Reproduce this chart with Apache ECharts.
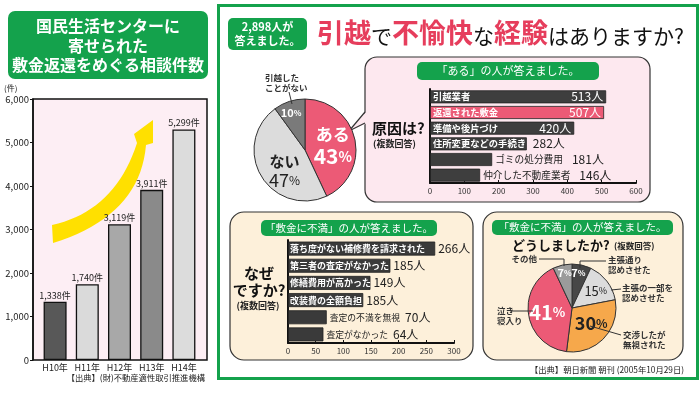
<!DOCTYPE html>
<html><head><meta charset="utf-8">
<script src="https://cdn.jsdelivr.net/npm/echarts@6/dist/echarts.min.js"></script>
<style>html,body{margin:0;padding:0;background:#fff}#c{width:700px;height:395px}</style>
</head><body><div id="c"></div>
<script>
// ---------------- DATA ----------------
const yearCats = ['H10年','H11年','H12年','H13年','H14年'];
const yearCounts = [1338,1740,3119,3911,5299];
const yearTicks = [0,1000,2000,3000,4000,5000,6000];

const expNames = ['ある','ない','引越したことがない'];
const expShares = [43,47,10];

const causeNames = ['引越業者','返還された敷金','準備や後片づけ','住所変更などの手続き','ゴミの処分費用','仲介した不動産業者'];
const causeCounts = [513,507,420,282,181,146];
const causeTicks = [0,100,200,300,400,500,600];

const whyNames = ['落ち度がない補修費を請求された','第三者の査定がなかった','修繕費用が高かった','改装費の全額負担','査定の不満を無視','査定がなかった'];
const whyBarLengths = [266,185,149,136,70,64];
const whyPrinted = [266,185,149,185,70,64];
const whyTicks = [0,50,100,150,200,250,300];

const actionNames = ['主張通り認めさせた','主張の一部を認めさせた','交渉したが無視された','泣き寝入り','その他'];
const actionShares = [7,15,30,41,7];

// ---------------- STYLE ----------------
const FF = '"Noto Sans CJK JP", "Noto Sans CJK SC", sans-serif';
const GREEN = '#14A24C';
const PINK = '#EC5A76';
const yearColors = ['#585858','#DADADA','#A8A8A8','#8A8A8A','#DCDCDC'];
const expColors = [PINK,'#DCDCDC','#7A7A7A'];
const actionColors = ['#474747','#DCDCDC','#F6A84B',PINK,'#9B9B9B'];

function txt(x,y,text,st){
  return {type:'text', x:x, y:y, z:100, style:Object.assign({text:text, fill:'#222', fontFamily:FF, fontSize:10, align:'left', verticalAlign:'middle'}, st||{})};
}
function quad(p0,c,p2,n){
  const pts=[];
  for(let i=0;i<=n;i++){const t=i/n;
    pts.push([(1-t)*(1-t)*p0[0]+2*(1-t)*t*c[0]+t*t*p2[0],(1-t)*(1-t)*p0[1]+2*(1-t)*t*c[1]+t*t*p2[1]]);}
  return pts;
}
const arrowPts = [].concat(quad([52,225],[115,211],[137,143],20),[[134,134],[153,120],[153,143],[146,145]],quad([146,145],[140,216],[53,243],20));

const g = [];
// left panel
g.push({type:'rect', z:1, shape:{x:8,y:11,width:200,height:68,r:7}, style:{fill:GREEN}});
g.push(txt(108,45.5,'国民生活センターに\n寄せられた\n敷金返還をめぐる相談件数',{fill:'#fff',fontSize:16,fontWeight:'bold',align:'center',lineHeight:19.5}));
g.push(txt(4,88,'(件)',{fontSize:8}));
g.push({type:'rect', z:0, shape:{x:33,y:99,width:174,height:261}, style:{fill:'#FDEEF4', stroke:'#111', lineWidth:1.5}});
g.push({type:'polygon', z:1, shape:{points:arrowPts}, style:{fill:'#FFE000'}});
g.push(txt(205,378,'【出典】(財)不動産適性取引推進機構',{fontSize:8.3,align:'right'}));
// right panel frame
g.push({type:'rect', z:0, shape:{x:218.5,y:5.5,width:479,height:373}, style:{fill:'none', stroke:GREEN, lineWidth:3}});
g.push({type:'rect', z:1, shape:{x:228,y:18,width:79,height:32,r:5}, style:{fill:GREEN}});
g.push(txt(267.5,34,'2,898人が\n答えました。',{fill:'#fff',fontSize:11,fontWeight:'bold',align:'center',lineHeight:13.5}));
g.push({type:'text', z:100, x:317, y:33, style:{text:'{r|引越}{k|で}{r|不愉快}{k|な}{r|経験}{k|はありますか?}', verticalAlign:'middle',
  rich:{r:{fontFamily:FF,fontSize:27,fontWeight:'bold',fill:'#E63D5C',verticalAlign:'bottom'},
        k:{fontFamily:FF,fontSize:21,fill:'#111',verticalAlign:'bottom'}}}});
// pie1 callout
g.push(txt(265,82.5,'引越した\nことがない',{fontSize:8.5,fontWeight:'bold',fill:'#333',lineHeight:10}));
g.push({type:'line', z:100, shape:{x1:289,y1:92,x2:292,y2:104}, style:{stroke:'#333',lineWidth:1}});
// speech bubble
g.push({type:'rect', z:0, shape:{x:365,y:57,width:285,height:145,r:12}, style:{fill:'#FDE8EF', stroke:'#333', lineWidth:1.2}});
g.push({type:'polygon', z:1, shape:{points:[[366.5,111.5],[349,131],[366.5,123.5]]}, style:{fill:'#FDE8EF'}});
g.push({type:'polyline', z:1, shape:{points:[[365,112],[349,131],[365,123]]}, style:{stroke:'#333',lineWidth:1.2,fill:'none'}});
g.push({type:'rect', z:1, shape:{x:417,y:62,width:182,height:18,r:5}, style:{fill:GREEN}});
g.push(txt(508,71,'「ある」の人が答えました。',{fill:'#fff',fontSize:11,align:'center'}));
g.push(txt(372,128,'原因は?',{fontSize:15,fontWeight:'bold',fill:'#111'}));
g.push(txt(373,143.5,'(複数回答)',{fontSize:9,fontWeight:'bold',fill:'#222'}));
// bottom-left panel
g.push({type:'rect', z:0, shape:{x:230,y:212,width:243,height:148,r:14}, style:{fill:'#FDF0DA', stroke:'#333', lineWidth:1.2}});
g.push({type:'rect', z:1, shape:{x:261,y:220,width:176,height:16,r:5}, style:{fill:GREEN}});
g.push(txt(349,228,'「敷金に不満」の人が答えました。',{fill:'#fff',fontSize:10.5,align:'center'}));
g.push(txt(259,282,'なぜ\nですか?',{fontSize:15,fontWeight:'bold',fill:'#111',align:'center',lineHeight:17}));
g.push(txt(258,306,'(複数回答)',{fontSize:9,fontWeight:'bold',align:'center'}));
// bottom-right panel
g.push({type:'rect', z:0, shape:{x:483,y:212,width:200,height:148,r:14}, style:{fill:'#FDF0DA', stroke:'#333', lineWidth:1.2}});
g.push({type:'rect', z:1, shape:{x:492,y:220,width:181,height:15,r:5}, style:{fill:GREEN}});
g.push(txt(582.5,227.5,'「敷金に不満」の人が答えました。',{fill:'#fff',fontSize:10.5,align:'center'}));
g.push(txt(512,245,'どうしましたか?',{fontSize:13,fontWeight:'bold',fill:'#111'}));
g.push(txt(614,246,'(複数回答)',{fontSize:8.5,fontWeight:'bold'}));
// pie2 callouts
const LS = {stroke:'#333',lineWidth:1,fill:'none'};
g.push(txt(537,259,'その他',{fontSize:8.5,align:'right',fontWeight:'bold',fill:'#333'}));
g.push({type:'polyline', z:100, shape:{points:[[539,259],[564,259],[564,266]]}, style:LS});
g.push(txt(608,265,'主張通り\n認めさせた',{fontSize:8.5,fontWeight:'bold',fill:'#333',lineHeight:10}));
g.push({type:'polyline', z:100, shape:{points:[[580,268],[580,261],[606,261]]}, style:LS});
g.push(txt(622,293,'主張の一部を\n認めさせた',{fontSize:8.5,fontWeight:'bold',fill:'#333',lineHeight:10}));
g.push({type:'polyline', z:100, shape:{points:[[611,290],[621,289]]}, style:LS});
g.push(txt(623,340,'交渉したが\n無視された',{fontSize:8.5,fontWeight:'bold',fill:'#333',lineHeight:10}));
g.push({type:'polyline', z:100, shape:{points:[[590,326],[621,335]]}, style:LS});
g.push(txt(497,316,'泣き\n寝入り',{fontSize:8.5,fontWeight:'bold',fill:'#333',lineHeight:10}));
g.push({type:'polyline', z:100, shape:{points:[[511,311],[533,311]]}, style:LS});
g.push(txt(684,370,'【出典】朝日新聞 朝刊 (2005年10月29日)',{fontSize:8.3,align:'right'}));

// ---------------- SERIES DATA BUILD ----------------
const leftBarData = yearCounts.map((v,i)=>({value:v, itemStyle:{color:yearColors[i]}}));

const causeBarData = causeCounts.map((v,i)=>{
  const inside = i < 4;
  return {value:v, itemStyle:{color: i===1 ? PINK : '#3E3E3E'},
    label: inside ? {show:true, position:'insideLeft', distance:3, formatter:causeNames[i], color:'#fff', fontSize:9.3, fontWeight:'bold', fontFamily:FF}
                  : {show:true, position:'right', distance:3, formatter:'{n|'+causeNames[i]+'}{v|'+v+'人}',
                     rich:{n:{fontSize:9.7, color:'#222', fontFamily:FF, padding:[0,9,0,0]}, v:{fontSize:12, color:'#222', fontFamily:FF}}}};
});
const causeValData = causeCounts.map((v,i)=>({value:v,
  label: i < 3 ? {show:true, position:'insideRight', distance:3, formatter:v+'人', color:'#fff', fontSize:12, fontFamily:FF}
       : i === 3 ? {show:true, position:'right', distance:6, formatter:v+'人', color:'#222', fontSize:12, fontFamily:FF}
       : {show:false}}));

const whyBarData = whyBarLengths.map((v,i)=>{
  const inside = i < 4;
  return {value:v,
    label: inside ? {show:true, position:'insideLeft', distance:2, formatter:whyNames[i], color:'#fff', fontSize:9, fontWeight:'bold', fontFamily:FF}
                  : {show:true, position:'right', distance:3, formatter:'{n|'+whyNames[i]+'}{v|'+whyPrinted[i]+'人}',
                     rich:{n:{fontSize:8.8, color:'#222', fontFamily:FF, padding:[0,5,0,0]}, v:{fontSize:12, color:'#222', fontFamily:FF}}}};
});
const whyValData = whyBarLengths.map((v,i)=>({value:v,
  label: i < 4 ? {show:true, position:'right', distance:3, formatter:whyPrinted[i]+'人', color:'#222', fontSize:12, fontFamily:FF} : {show:false}}));

const pie1Data = expNames.map((n,i)=>{
  let label;
  if(i===0) label = {formatter:'{a|'+n+'}\n{b|'+expShares[i]+'}{c|%}'};
  else if(i===1) label = {formatter:'{a2|'+n+'}\n{b2|'+expShares[i]+'}{c2|%}'};
  else label = {formatter:'{s|'+expShares[i]+'}{t|%}'};
  return {name:n, value:expShares[i], itemStyle:{color:expColors[i]}, label:label};
});
const pie1Shift = [[0,2],[4,7],[-5,-10]];

const pie2Rich = {
  w1:{fontSize:11,fontWeight:'bold',color:'#fff',fontFamily:FF}, w2:{fontSize:8,fontWeight:'bold',color:'#fff',fontFamily:FF},
  d1:{fontSize:13,color:'#222',fontFamily:FF}, d2:{fontSize:9,color:'#222',fontFamily:FF},
  e1:{fontSize:18,fontWeight:'bold',color:'#222',fontFamily:FF}, e2:{fontSize:12,fontWeight:'bold',color:'#222',fontFamily:FF},
  f1:{fontSize:20,fontWeight:'bold',color:'#fff',fontFamily:FF}, f2:{fontSize:13,fontWeight:'bold',color:'#fff',fontFamily:FF}
};
const pie2Keys = ['w','d','e','f','w'];
const pie2Data = actionNames.map((n,i)=>({name:n, value:actionShares[i], itemStyle:{color:actionColors[i]},
  label:{formatter:'{'+pie2Keys[i]+'1|'+actionShares[i]+'}{'+pie2Keys[i]+'2|%}'}}));
const pie2Shift = [[1,-11],[4,-2],[1,-2],[0,0],[-2,-11]];

function ticksAxis(t){ return {min:t[0], max:t[t.length-1], interval:t[1]-t[0]}; }

const option = {
  animation:false,
  backgroundColor:'#fff',
  textStyle:{fontFamily:FF},
  graphic:{elements:g},
  grid:[
    {left:39, top:99, width:161, height:261},
    {left:430, top:89, width:206, height:94},
    {left:288, top:240, width:166, height:103}
  ],
  xAxis:[
    {gridIndex:0, type:'category', data:yearCats, axisLine:{show:false}, axisTick:{show:false},
     axisLabel:{interval:0, fontSize:9, color:'#222', margin:3, fontFamily:FF}},
    Object.assign({gridIndex:1, type:'value', axisLine:{show:true,lineStyle:{color:'#111',width:2}},
     axisTick:{show:true,inside:true,length:3,lineStyle:{color:'#111'}}, splitLine:{show:false},
     axisLabel:{fontSize:8, color:'#333', margin:4}}, ticksAxis(causeTicks)),
    Object.assign({gridIndex:2, type:'value', axisLine:{show:true,lineStyle:{color:'#111',width:2}},
     axisTick:{show:true,inside:true,length:3,lineStyle:{color:'#111'}}, splitLine:{show:false},
     axisLabel:{fontSize:8, color:'#333', margin:4}}, ticksAxis(whyTicks))
  ],
  yAxis:[
    Object.assign({gridIndex:0, type:'value', offset:6, axisLine:{show:true,lineStyle:{color:'#111',width:1.5}},
     axisTick:{show:true,length:3,lineStyle:{color:'#111'}}, splitLine:{show:false},
     axisLabel:{fontSize:9.5, color:'#222', margin:4, formatter:v=>v.toLocaleString('en-US')}}, ticksAxis(yearTicks)),
    {gridIndex:1, type:'category', inverse:true, data:causeNames, axisLine:{show:true,lineStyle:{color:'#111',width:2}},
     axisTick:{show:false}, axisLabel:{show:false}},
    {gridIndex:2, type:'category', inverse:true, data:whyNames, axisLine:{show:true,lineStyle:{color:'#111',width:2}},
     axisTick:{show:false}, axisLabel:{show:false}}
  ],
  series:[
    {type:'bar', xAxisIndex:0, yAxisIndex:0, data:leftBarData, barWidth:23, silent:true,
     itemStyle:{borderColor:'#111', borderWidth:1.3},
     label:{show:true, position:'top', distance:2, fontSize:9, color:'#222', fontFamily:FF,
       formatter:p=>p.value.toLocaleString('en-US')+'件'}},
    {type:'bar', xAxisIndex:1, yAxisIndex:1, data:causeBarData, barWidth:13, barGap:'-100%', silent:true,
     itemStyle:{borderColor:'#222', borderWidth:0.8}},
    {type:'bar', xAxisIndex:1, yAxisIndex:1, data:causeValData, barWidth:13, barGap:'-100%', silent:true,
     itemStyle:{color:'rgba(0,0,0,0)'}},
    {type:'bar', xAxisIndex:2, yAxisIndex:2, data:whyBarData, barWidth:14, barGap:'-100%', silent:true,
     itemStyle:{color:'#3A3A3A', borderColor:'#222', borderWidth:0.8}},
    {type:'bar', xAxisIndex:2, yAxisIndex:2, data:whyValData, barWidth:14, barGap:'-100%', silent:true,
     itemStyle:{color:'rgba(0,0,0,0)'}},
    {type:'pie', center:[305,150], radius:[0,51], startAngle:90, clockwise:true, silent:true, avoidLabelOverlap:false,
     data:pie1Data, itemStyle:{borderColor:'#333', borderWidth:1},
     label:{show:true, position:'inside', fontFamily:FF, lineHeight:20,
       rich:{a:{fontSize:17,fontWeight:'bold',color:'#fff',fontFamily:FF,lineHeight:21},
             b:{fontSize:21,fontWeight:'bold',color:'#fff',fontFamily:FF,lineHeight:22},
             c:{fontSize:14,fontWeight:'bold',color:'#fff',fontFamily:FF,lineHeight:22},
             a2:{fontSize:15,fontWeight:'bold',color:'#222',fontFamily:FF,lineHeight:18},
             b2:{fontSize:18,color:'#222',fontFamily:FF,lineHeight:20},
             c2:{fontSize:12,color:'#222',fontFamily:FF,lineHeight:20},
             s:{fontSize:11,fontWeight:'bold',color:'#fff',fontFamily:FF},
             t:{fontSize:8,fontWeight:'bold',color:'#fff',fontFamily:FF}}},
     labelLine:{show:false},
     labelLayout:p=>({dx:pie1Shift[p.dataIndex][0], dy:pie1Shift[p.dataIndex][1]})},
    {type:'pie', center:[572,308], radius:[0,44], startAngle:90, clockwise:true, silent:true, avoidLabelOverlap:false,
     data:pie2Data, itemStyle:{borderColor:'#333', borderWidth:1},
     label:{show:true, position:'inside', fontFamily:FF, rich:pie2Rich},
     labelLine:{show:false},
     labelLayout:p=>({dx:pie2Shift[p.dataIndex][0], dy:pie2Shift[p.dataIndex][1]})}
  ]
};
const chart = echarts.init(document.getElementById('c'));
chart.setOption(option);
</script>
</body></html>
